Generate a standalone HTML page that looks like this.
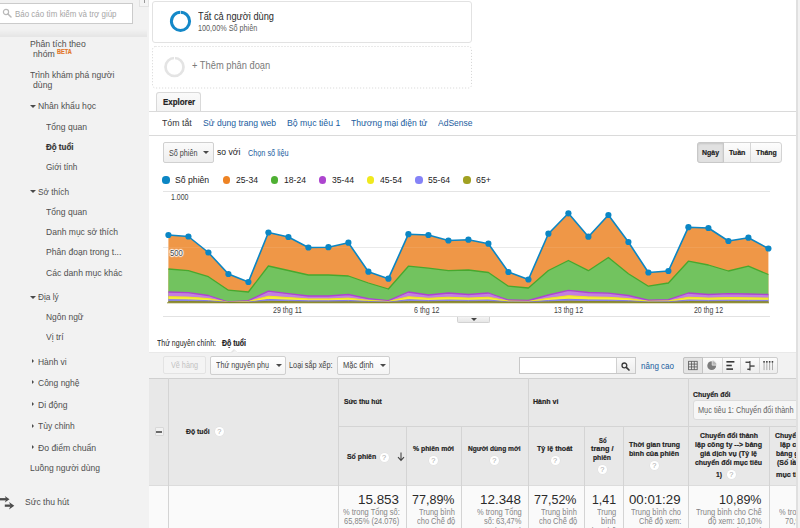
<!DOCTYPE html><html><head><meta charset="utf-8"><title>Analytics</title><style>
*{margin:0;padding:0;box-sizing:border-box}
html,body{width:800px;height:528px;overflow:hidden;background:#fff}
body{position:relative;font-family:"Liberation Sans",sans-serif;color:#333}
.a{position:absolute}
.t{position:absolute;white-space:nowrap;line-height:1;transform-origin:0 0}
.q{position:absolute;width:9px;height:9px;border-radius:50%;background:#fff;color:#a8a8a8;font-size:7.4px;line-height:9.4px;text-align:center;box-shadow:0 0 0 .5px #e0e0e0}
.btn{position:absolute;border:1px solid #cfcfcf;border-radius:2px;background:linear-gradient(#fdfdfd,#efefef)}
.vl{position:absolute;width:1px;background:#d4d4d4}
.hl{position:absolute;height:1px;background:#d4d4d4}
.dot{position:absolute;width:7.2px;height:7.2px;border-radius:50%}
.arD{position:absolute;width:0;height:0;border-left:3px solid transparent;border-right:3px solid transparent;border-top:3.2px solid #4a4a4a}
.arR{position:absolute;width:0;height:0;border-top:2.6px solid transparent;border-bottom:2.6px solid transparent;border-left:2.9px solid #4a4a4a}
</style></head><body>
<div class="a" style="left:0;top:0;width:149px;height:528px;background:#f2f2f2"></div>
<div class="a" style="left:0;top:29px;width:147px;height:8px;background:linear-gradient(rgba(0,0,0,0),rgba(0,0,0,0.055))"></div>
<div class="a" style="left:139px;top:-1px;width:10px;height:8px;border:1px solid #e2e2e2;background:#f4f4f4"></div>
<div class="a" style="left:144px;top:0;width:1px;height:3px;background:#999"></div>
<div class="a" style="left:-3px;top:3px;width:136px;height:21px;background:#fff;border:1px solid #cbcbcb"></div>
<svg class="a" style="left:2px;top:8px" width="10" height="10" viewBox="0 0 10 10"><circle cx="4" cy="4" r="2.6" fill="none" stroke="#b9b9b9" stroke-width="1.2"/><path d="M6 6 L9 9" stroke="#b9b9b9" stroke-width="1.5" stroke-linecap="round"/></svg>
<div class="arD" style="left:29.8px;top:104.7px"></div>
<div class="arD" style="left:29.8px;top:190.2px"></div>
<div class="arD" style="left:29.8px;top:295.7px"></div>
<div class="arR" style="left:31.6px;top:358.9px"></div>
<div class="arR" style="left:31.6px;top:380.4px"></div>
<div class="arR" style="left:31.6px;top:402.4px"></div>
<div class="arR" style="left:31.6px;top:423.9px"></div>
<div class="arR" style="left:31.6px;top:445.4px"></div>
<svg class="a" style="left:0;top:495px" width="16" height="16" viewBox="0 0 16 16"><g fill="#4b4b4b"><rect x="0" y="3.1" width="6.4" height="2.3"/><path d="M4.8 0.9 L9.5 4.25 L4.8 7.6 L6.2 4.25z"/><rect x="4.8" y="9.5" width="6" height="2.3"/><path d="M9 6.9 L14.3 10.65 L9 14.6 L10.6 10.65z"/></g></svg>
<div class="a" style="left:152px;top:1px;width:320px;height:42px;border:1px solid #e2e2e2;border-radius:3px;background:#fff"></div>
<svg class="a" style="left:150px;top:44px" width="326" height="48"><rect x="2.5" y="2.5" width="319" height="41.5" rx="3" fill="#fff" stroke="#d4d4d4" stroke-width="1" stroke-dasharray="1 2"/></svg>
<svg class="a" style="left:0;top:0" width="300" height="95"><circle cx="180.5" cy="21.3" r="9.1" fill="none" stroke="#1488c8" stroke-width="3"/><rect x="180" y="10" width="1" height="5" fill="#fff" opacity=".6"/><circle cx="174.5" cy="67" r="9" fill="none" stroke="#e4e4e4" stroke-width="2.7"/><rect x="174" y="56" width="1" height="4" fill="#fff"/></svg>
<div class="hl" style="left:149px;top:110.5px;width:647px;background:#dadada"></div>
<div class="a" style="left:156px;top:92px;width:45px;height:19px;border:1px solid #d9d9d9;border-bottom:none;border-radius:3px 3px 0 0;background:linear-gradient(#fafafa,#f3f3f3)"></div>
<div class="hl" style="left:149px;top:135.3px;width:647px;background:#dadada"></div>
<div class="btn" style="left:163px;top:142px;width:50.5px;height:21px;border-color:#d0d0d0;background:linear-gradient(#fbfbfb,#eeeeee)"></div>
<div class="arD" style="left:202.8px;top:151.3px"></div>
<div class="btn" style="left:697px;top:142px;width:85px;height:21px;border-radius:3px;border-color:#d3d3d3"></div>
<div class="a" style="left:697px;top:142px;width:27px;height:21px;border:1px solid #c8c8c8;border-radius:3px 0 0 3px;background:#e1e1e1;box-shadow:inset 0 1px 2px rgba(0,0,0,.12)"></div>
<div class="vl" style="left:750px;top:143px;height:19px;background:#d6d6d6"></div>
<div class="dot" style="left:162.4px;top:176.4px;background:#0b86c4"></div>
<div class="dot" style="left:222.9px;top:176.4px;background:#ee8324"></div>
<div class="dot" style="left:270.9px;top:176.4px;background:#4fb033"></div>
<div class="dot" style="left:318.9px;top:176.4px;background:#ad45cf"></div>
<div class="dot" style="left:367.0px;top:176.4px;background:#f0e91e"></div>
<div class="dot" style="left:415.4px;top:176.4px;background:#8583f7"></div>
<div class="dot" style="left:463.4px;top:176.4px;background:#a1a122"></div>
<svg style="position:absolute;left:0;top:0" width="800" height="528" viewBox="0 0 800 528">
<rect x="163" y="191" width="607" height="1" fill="#e4e4e4"/>
<rect x="163" y="247" width="607" height="1" fill="#e9e9e9"/>
<polygon points="168.4,302.6 168.4,235.0 188.4,236.5 208.4,252.5 228.4,274.0 248.4,282.0 268.4,232.5 288.4,237.0 308.4,247.5 328.4,247.2 348.4,242.7 368.4,271.7 388.4,278.7 408.4,234.2 428.4,235.0 448.4,240.5 468.4,239.7 488.4,243.7 508.4,272.0 528.4,279.5 548.4,233.7 568.4,213.3 588.4,236.7 608.4,215.0 628.4,242.0 648.4,272.5 668.4,271.0 688.4,227.2 708.4,228.0 728.4,241.0 748.4,237.7 768.4,248.5 768.4,302.6" fill="#ef9747"/><polyline points="168.4,235.0 188.4,236.5 208.4,252.5 228.4,274.0 248.4,282.0 268.4,232.5 288.4,237.0 308.4,247.5 328.4,247.2 348.4,242.7 368.4,271.7 388.4,278.7 408.4,234.2 428.4,235.0 448.4,240.5 468.4,239.7 488.4,243.7 508.4,272.0 528.4,279.5 548.4,233.7 568.4,213.3 588.4,236.7 608.4,215.0 628.4,242.0 648.4,272.5 668.4,271.0 688.4,227.2 708.4,228.0 728.4,241.0 748.4,237.7 768.4,248.5" fill="none" stroke="#ef9747" stroke-width="0" stroke-linejoin="round"/>
<polygon points="168.4,302.6 168.4,269.0 188.4,270.7 208.4,276.7 228.4,290.2 248.4,292.0 268.4,266.0 288.4,270.5 308.4,275.0 328.4,275.0 348.4,276.0 368.4,283.0 388.4,289.0 408.4,266.2 428.4,268.2 448.4,270.7 468.4,270.0 488.4,272.5 508.4,286.2 528.4,288.0 548.4,270.5 568.4,260.5 588.4,270.7 608.4,257.5 628.4,273.7 648.4,286.2 668.4,283.0 688.4,261.2 708.4,265.0 728.4,271.0 748.4,266.2 768.4,274.5 768.4,302.6" fill="#72c35f"/><polyline points="168.4,269.0 188.4,270.7 208.4,276.7 228.4,290.2 248.4,292.0 268.4,266.0 288.4,270.5 308.4,275.0 328.4,275.0 348.4,276.0 368.4,283.0 388.4,289.0 408.4,266.2 428.4,268.2 448.4,270.7 468.4,270.0 488.4,272.5 508.4,286.2 528.4,288.0 548.4,270.5 568.4,260.5 588.4,270.7 608.4,257.5 628.4,273.7 648.4,286.2 668.4,283.0 688.4,261.2 708.4,265.0 728.4,271.0 748.4,266.2 768.4,274.5" fill="none" stroke="#47a82e" stroke-width="1.3" stroke-linejoin="round"/>
<polygon points="168.4,302.6 168.4,292.0 188.4,292.7 208.4,295.5 228.4,302.0 248.4,300.7 268.4,291.2 288.4,293.7 308.4,296.0 328.4,296.0 348.4,294.5 368.4,298.7 388.4,300.7 408.4,292.0 428.4,295.0 448.4,293.0 468.4,294.5 488.4,293.0 508.4,300.0 528.4,300.5 548.4,295.0 568.4,290.3 588.4,292.5 608.4,293.2 628.4,295.5 648.4,300.2 668.4,299.7 688.4,293.0 708.4,294.5 728.4,293.7 748.4,294.0 768.4,294.5 768.4,302.6" fill="#c27fdf"/><polyline points="168.4,292.0 188.4,292.7 208.4,295.5 228.4,302.0 248.4,300.7 268.4,291.2 288.4,293.7 308.4,296.0 328.4,296.0 348.4,294.5 368.4,298.7 388.4,300.7 408.4,292.0 428.4,295.0 448.4,293.0 468.4,294.5 488.4,293.0 508.4,300.0 528.4,300.5 548.4,295.0 568.4,290.3 588.4,292.5 608.4,293.2 628.4,295.5 648.4,300.2 668.4,299.7 688.4,293.0 708.4,294.5 728.4,293.7 748.4,294.0 768.4,294.5" fill="none" stroke="#ad45cf" stroke-width="1.3" stroke-linejoin="round"/>
<polygon points="168.4,302.6 168.4,296.7 188.4,297.1 208.4,298.6 228.4,302.3 248.4,301.5 268.4,296.2 288.4,297.6 308.4,298.9 328.4,298.9 348.4,298.1 368.4,300.4 388.4,301.5 408.4,296.7 428.4,298.3 448.4,297.2 468.4,298.1 488.4,297.2 508.4,301.1 528.4,301.4 548.4,298.3 568.4,295.7 588.4,296.9 608.4,297.3 628.4,298.6 648.4,301.3 668.4,301.0 688.4,297.2 708.4,298.1 728.4,297.6 748.4,297.8 768.4,298.1 768.4,302.6" fill="#f5ef3a"/><polyline points="168.4,296.7 188.4,297.1 208.4,298.6 228.4,302.3 248.4,301.5 268.4,296.2 288.4,297.6 308.4,298.9 328.4,298.9 348.4,298.1 368.4,300.4 388.4,301.5 408.4,296.7 428.4,298.3 448.4,297.2 468.4,298.1 488.4,297.2 508.4,301.1 528.4,301.4 548.4,298.3 568.4,295.7 588.4,296.9 608.4,297.3 628.4,298.6 648.4,301.3 668.4,301.0 688.4,297.2 708.4,298.1 728.4,297.6 748.4,297.8 768.4,298.1" fill="none" stroke="#efe81c" stroke-width="1" stroke-linejoin="round"/>
<polygon points="168.4,302.6 168.4,299.7 188.4,299.9 208.4,300.7 228.4,302.4 248.4,302.1 268.4,299.5 288.4,300.2 308.4,300.8 328.4,300.8 348.4,300.4 368.4,301.5 388.4,302.1 408.4,299.7 428.4,300.5 448.4,300.0 468.4,300.4 488.4,300.0 508.4,301.9 528.4,302.0 548.4,300.5 568.4,299.3 588.4,299.9 608.4,300.1 628.4,300.7 648.4,302.0 668.4,301.8 688.4,300.0 708.4,300.4 728.4,300.2 748.4,300.3 768.4,300.4 768.4,302.6" fill="#8d88f0"/><polyline points="168.4,299.7 188.4,299.9 208.4,300.7 228.4,302.4 248.4,302.1 268.4,299.5 288.4,300.2 308.4,300.8 328.4,300.8 348.4,300.4 368.4,301.5 388.4,302.1 408.4,299.7 428.4,300.5 448.4,300.0 468.4,300.4 488.4,300.0 508.4,301.9 528.4,302.0 548.4,300.5 568.4,299.3 588.4,299.9 608.4,300.1 628.4,300.7 648.4,302.0 668.4,301.8 688.4,300.0 708.4,300.4 728.4,300.2 748.4,300.3 768.4,300.4" fill="none" stroke="#7d78ee" stroke-width="1" stroke-linejoin="round"/>
<polygon points="168.4,302.6 168.4,301.4 188.4,301.5 208.4,301.8 228.4,302.5 248.4,302.4 268.4,301.3 288.4,301.6 308.4,301.9 328.4,301.9 348.4,301.7 368.4,302.2 388.4,302.4 408.4,301.4 428.4,301.8 448.4,301.5 468.4,301.7 488.4,301.5 508.4,302.3 528.4,302.4 548.4,301.8 568.4,301.2 588.4,301.5 608.4,301.6 628.4,301.8 648.4,302.3 668.4,302.3 688.4,301.5 708.4,301.7 728.4,301.6 748.4,301.7 768.4,301.7 768.4,302.6" fill="#9a9a22"/><polyline points="168.4,301.4 188.4,301.5 208.4,301.8 228.4,302.5 248.4,302.4 268.4,301.3 288.4,301.6 308.4,301.9 328.4,301.9 348.4,301.7 368.4,302.2 388.4,302.4 408.4,301.4 428.4,301.8 448.4,301.5 468.4,301.7 488.4,301.5 508.4,302.3 528.4,302.4 548.4,301.8 568.4,301.2 588.4,301.5 608.4,301.6 628.4,301.8 648.4,302.3 668.4,302.3 688.4,301.5 708.4,301.7 728.4,301.6 748.4,301.7 768.4,301.7" fill="none" stroke="#84840f" stroke-width="0.8" stroke-linejoin="round"/>
<rect x="163" y="247" width="607" height="1" fill="#ffffff" opacity="0.08"/>
<rect x="167" y="302.3" width="602" height="1" fill="#85851a" opacity="0.85"/>
<polyline points="168.4,235.0 188.4,236.5 208.4,252.5 228.4,274.0 248.4,282.0 268.4,232.5 288.4,237.0 308.4,247.5 328.4,247.2 348.4,242.7 368.4,271.7 388.4,278.7 408.4,234.2 428.4,235.0 448.4,240.5 468.4,239.7 488.4,243.7 508.4,272.0 528.4,279.5 548.4,233.7 568.4,213.3 588.4,236.7 608.4,215.0 628.4,242.0 648.4,272.5 668.4,271.0 688.4,227.2 708.4,228.0 728.4,241.0 748.4,237.7 768.4,248.5" fill="none" stroke="#0b86c4" stroke-width="1.6" stroke-linejoin="round"/>
<circle cx="168.4" cy="235.0" r="3.1" fill="#0b86c4"/>
<circle cx="188.4" cy="236.5" r="3.1" fill="#0b86c4"/>
<circle cx="208.4" cy="252.5" r="3.1" fill="#0b86c4"/>
<circle cx="228.4" cy="274.0" r="3.1" fill="#0b86c4"/>
<circle cx="248.4" cy="282.0" r="3.1" fill="#0b86c4"/>
<circle cx="268.4" cy="232.5" r="3.1" fill="#0b86c4"/>
<circle cx="288.4" cy="237.0" r="3.1" fill="#0b86c4"/>
<circle cx="308.4" cy="247.5" r="3.1" fill="#0b86c4"/>
<circle cx="328.4" cy="247.2" r="3.1" fill="#0b86c4"/>
<circle cx="348.4" cy="242.7" r="3.1" fill="#0b86c4"/>
<circle cx="368.4" cy="271.7" r="3.1" fill="#0b86c4"/>
<circle cx="388.4" cy="278.7" r="3.1" fill="#0b86c4"/>
<circle cx="408.4" cy="234.2" r="3.1" fill="#0b86c4"/>
<circle cx="428.4" cy="235.0" r="3.1" fill="#0b86c4"/>
<circle cx="448.4" cy="240.5" r="3.1" fill="#0b86c4"/>
<circle cx="468.4" cy="239.7" r="3.1" fill="#0b86c4"/>
<circle cx="488.4" cy="243.7" r="3.1" fill="#0b86c4"/>
<circle cx="508.4" cy="272.0" r="3.1" fill="#0b86c4"/>
<circle cx="528.4" cy="279.5" r="3.1" fill="#0b86c4"/>
<circle cx="548.4" cy="233.7" r="3.1" fill="#0b86c4"/>
<circle cx="568.4" cy="213.3" r="3.1" fill="#0b86c4"/>
<circle cx="588.4" cy="236.7" r="3.1" fill="#0b86c4"/>
<circle cx="608.4" cy="215.0" r="3.1" fill="#0b86c4"/>
<circle cx="628.4" cy="242.0" r="3.1" fill="#0b86c4"/>
<circle cx="648.4" cy="272.5" r="3.1" fill="#0b86c4"/>
<circle cx="668.4" cy="271.0" r="3.1" fill="#0b86c4"/>
<circle cx="688.4" cy="227.2" r="3.1" fill="#0b86c4"/>
<circle cx="708.4" cy="228.0" r="3.1" fill="#0b86c4"/>
<circle cx="728.4" cy="241.0" r="3.1" fill="#0b86c4"/>
<circle cx="748.4" cy="237.7" r="3.1" fill="#0b86c4"/>
<circle cx="768.4" cy="248.5" r="3.1" fill="#0b86c4"/>
</svg>
<div class="t" style="left:170px;top:249.3px;font-size:8.3px;color:#444;text-shadow:0 0 2px #fff,0 0 2px #fff,0 0 1px #fff,1px 0 1px #fff,-1px 0 1px #fff,0 1px 1px #fff,0 -1px 1px #fff;transform:scaleX(.92)">500</div>
<div class="hl" style="left:163px;top:316.2px;width:607px;background:#e2e2e2"></div>
<div class="a" style="left:456.5px;top:317px;width:33px;height:6px;border:1px solid #d2d2d2;border-top:none;border-radius:0 0 2px 2px;background:linear-gradient(#f4f4f4,#e6e6e6)"></div>
<div class="arD" style="left:471px;top:318.3px;border-top-color:#444"></div>
<div class="a" style="left:149px;top:352px;width:646.5px;height:26px;background:#f2f2f2;border-top:1px solid #e9e9e9"></div>
<div class="a" style="left:231px;top:349px;width:0;height:0;border-left:3.5px solid transparent;border-right:3.5px solid transparent;border-bottom:3.5px solid #e4e4e4"></div>
<div class="a" style="left:231.5px;top:350px;width:0;height:0;border-left:3px solid transparent;border-right:3px solid transparent;border-bottom:3px solid #f2f2f2"></div>
<div class="btn" style="left:162.8px;top:356.3px;width:43.7px;height:18.2px;border-color:#e3e3e3;background:#f4f4f4"></div>
<div class="btn" style="left:209.9px;top:356px;width:76px;height:18.5px;background:linear-gradient(#fff,#f4f4f4)"></div>
<div class="arD" style="left:276px;top:364.2px"></div>
<div class="btn" style="left:336.8px;top:356px;width:53.2px;height:18.5px;background:linear-gradient(#fff,#f4f4f4)"></div>
<div class="arD" style="left:380px;top:364.2px"></div>
<div class="a" style="left:519px;top:357px;width:117px;height:16.5px;border:1px solid #c8c8c8;background:#fff"></div>
<div class="a" style="left:616px;top:358px;width:19px;height:14.5px;border-left:1px solid #d0d0d0;background:linear-gradient(#fafafa,#ececec)"></div>
<svg class="a" style="left:620px;top:360.5px" width="12" height="12" viewBox="0 0 12 12"><circle cx="4.4" cy="4.4" r="2.4" fill="none" stroke="#3a3a3a" stroke-width="1.3"/><path d="M6.3 6.3 L9 9" stroke="#3a3a3a" stroke-width="1.7" stroke-linecap="round"/></svg>
<div class="btn" style="left:683px;top:356.7px;width:95.2px;height:17px;border-color:#cdcdcd;background:linear-gradient(#fcfcfc,#ededed)"></div>
<div class="a" style="left:683px;top:356.7px;width:19.8px;height:17px;border:1px solid #c2c2c2;background:#e4e4e4;border-radius:2px 0 0 2px"></div>
<div class="vl" style="left:721.5px;top:357.7px;height:15px;background:#d6d6d6"></div>
<div class="vl" style="left:740.4px;top:357.7px;height:15px;background:#d6d6d6"></div>
<div class="vl" style="left:759px;top:357.7px;height:15px;background:#d6d6d6"></div>
<svg class="a" style="left:683px;top:356px" width="96" height="19" viewBox="0 0 96 19">
<g fill="none" stroke="#555" stroke-width="0.8"><rect x="5.6" y="5.3" width="8.6" height="8.4"/><path d="M8.5 5.3v8.4M11.3 5.3v8.4M5.6 8.1h8.6M5.6 10.9h8.6"/></g>
<circle cx="28.7" cy="9.7" r="4.4" fill="#7c7c7c"/><path d="M29.2 9.2 L29.2 4.6 A4.6 4.6 0 0 1 33.8 9.2z" fill="#b5b5b5" stroke="#f4f4f4" stroke-width="0.7"/>
<g fill="#383838"><rect x="43.4" y="5" width="8" height="1.6"/><rect x="43.4" y="8.7" width="5.4" height="1.6"/><rect x="43.4" y="12.3" width="6.6" height="1.6"/></g>
<g fill="#383838"><rect x="66.4" y="5" width="1.1" height="9.5"/><rect x="62.5" y="5.6" width="4.5" height="1.3"/><rect x="67" y="9.4" width="4.6" height="1.3"/><rect x="64.3" y="12.6" width="2.8" height="1.3"/></g>
<g fill="#a2a2a2"><rect x="80.6" y="5.3" width="0.9" height="8.8"/><rect x="83.4" y="5.3" width="0.9" height="8.8"/><rect x="86.2" y="5.3" width="0.9" height="8.8"/><rect x="89" y="5.3" width="0.9" height="8.8"/></g><g fill="#444"><rect x="80.3" y="5" width="1.5" height="1.6"/><rect x="83.1" y="5" width="1.5" height="1.6"/><rect x="85.9" y="5" width="1.5" height="1.6"/><rect x="88.7" y="5" width="1.5" height="1.6"/></g>
</svg>
<div class="a" style="left:149px;top:378px;width:646.5px;height:107px;background:#e8e8e8;border-top:1px solid #d0d0d0"></div>
<div class="a" style="left:149px;top:485px;width:646.5px;height:43px;background:#fafafa;border-top:1px solid #dcdcdc"></div>
<div class="vl" style="left:168px;top:378px;height:150px"></div>
<div class="vl" style="left:338px;top:378px;height:150px"></div>
<div class="vl" style="left:528px;top:378px;height:150px"></div>
<div class="vl" style="left:688px;top:378px;height:150px"></div>
<div class="vl" style="left:406.2px;top:426.5px;height:102px"></div>
<div class="vl" style="left:461px;top:426.5px;height:102px"></div>
<div class="vl" style="left:584px;top:426.5px;height:102px"></div>
<div class="vl" style="left:623.4px;top:426.5px;height:102px"></div>
<div class="vl" style="left:769.2px;top:426.5px;height:102px"></div>
<div class="hl" style="left:338px;top:426px;width:458px"></div>
<div class="a" style="left:154.7px;top:427px;width:9px;height:8.7px;border:1px solid #d8d8d8;background:#f1f1f1;border-radius:1px"></div><div class="a" style="left:156px;top:430.6px;width:6.2px;height:2.1px;background:#6a6a6a"></div>
<div class="a" style="left:692.5px;top:400.3px;width:110px;height:20.2px;border:1px solid #dbdbdb;border-radius:3px;background:#f6f6f6"></div>
<div class="q" style="left:214.8px;top:426.9px">?</div>
<div class="q" style="left:379.5px;top:452.5px">?</div>
<div class="q" style="left:428.7px;top:456.1px">?</div>
<div class="q" style="left:489.8px;top:456.1px">?</div>
<div class="q" style="left:550.5px;top:456.1px">?</div>
<div class="q" style="left:597.8px;top:464.8px">?</div>
<div class="q" style="left:649.9px;top:460.7px">?</div>
<div class="q" style="left:726.8px;top:470.1px">?</div>
<svg class="a" style="left:396.5px;top:452px" width="8" height="10" viewBox="0 0 8 10"><path d="M4 0.5V8M1 5.2L4 8.4L7 5.2" fill="none" stroke="#444" stroke-width="1.1"/></svg>
<span class="t" style="left:15.0px;top:8.9px;font-size:9.4px;transform:scaleX(0.848);color:#a6a6a6;">Báo cáo tìm kiếm và trợ giúp</span>
<span class="t" style="left:30.0px;top:39.1px;font-size:9.8px;transform:scaleX(0.882);color:#4f4f4f;">Phân tích theo</span>
<span class="t" style="left:33.2px;top:49.1px;font-size:9.8px;transform:scaleX(0.889);color:#4f4f4f;">nhóm</span>
<span class="t" style="left:57.0px;top:49.2px;font-size:6.6px;transform:scaleX(0.842);color:#e2762a;font-weight:bold;-webkit-text-stroke:0.2px;">BETA</span>
<span class="t" style="left:30.0px;top:69.8px;font-size:9.8px;transform:scaleX(0.869);color:#4f4f4f;">Trình khám phá người</span>
<span class="t" style="left:33.2px;top:80.1px;font-size:9.8px;transform:scaleX(0.885);color:#4f4f4f;">dùng</span>
<span class="t" style="left:37.5px;top:101.3px;font-size:9.8px;transform:scaleX(0.880);color:#4f4f4f;">Nhân khẩu học</span>
<span class="t" style="left:45.7px;top:121.8px;font-size:9.8px;transform:scaleX(0.875);color:#4f4f4f;">Tổng quan</span>
<span class="t" style="left:45.7px;top:141.7px;font-size:9.8px;transform:scaleX(0.815);color:#333;font-weight:bold;-webkit-text-stroke:0.2px;">Độ tuổi</span>
<span class="t" style="left:45.7px;top:162.1px;font-size:9.8px;transform:scaleX(0.835);color:#4f4f4f;">Giới tính</span>
<span class="t" style="left:37.5px;top:186.6px;font-size:9.8px;transform:scaleX(0.840);color:#4f4f4f;">Sở thích</span>
<span class="t" style="left:45.7px;top:207.1px;font-size:9.8px;transform:scaleX(0.875);color:#4f4f4f;">Tổng quan</span>
<span class="t" style="left:45.7px;top:227.1px;font-size:9.8px;transform:scaleX(0.871);color:#4f4f4f;">Danh mục sở thích</span>
<span class="t" style="left:45.7px;top:247.3px;font-size:9.8px;transform:scaleX(0.875);color:#4f4f4f;">Phân đoạn trong t...</span>
<span class="t" style="left:45.7px;top:267.6px;font-size:9.8px;transform:scaleX(0.881);color:#4f4f4f;">Các danh mục khác</span>
<span class="t" style="left:37.5px;top:291.8px;font-size:9.8px;transform:scaleX(0.845);color:#4f4f4f;">Địa lý</span>
<span class="t" style="left:45.7px;top:312.1px;font-size:9.8px;transform:scaleX(0.860);color:#4f4f4f;">Ngôn ngữ</span>
<span class="t" style="left:45.7px;top:332.3px;font-size:9.8px;transform:scaleX(0.869);color:#4f4f4f;">Vị trí</span>
<span class="t" style="left:37.5px;top:356.6px;font-size:9.8px;transform:scaleX(0.864);color:#4f4f4f;">Hành vi</span>
<span class="t" style="left:37.5px;top:378.1px;font-size:9.8px;transform:scaleX(0.866);color:#4f4f4f;">Công nghệ</span>
<span class="t" style="left:37.5px;top:400.1px;font-size:9.8px;transform:scaleX(0.873);color:#4f4f4f;">Di động</span>
<span class="t" style="left:37.5px;top:421.4px;font-size:9.8px;transform:scaleX(0.864);color:#4f4f4f;">Tùy chỉnh</span>
<span class="t" style="left:37.5px;top:443.3px;font-size:9.8px;transform:scaleX(0.883);color:#4f4f4f;">Đo điểm chuẩn</span>
<span class="t" style="left:30.0px;top:463.2px;font-size:9.8px;transform:scaleX(0.869);color:#4f4f4f;">Luồng người dùng</span>
<span class="t" style="left:24.5px;top:496.8px;font-size:9.8px;transform:scaleX(0.872);color:#4f4f4f;">Sức thu hút</span>
<span class="t" style="left:198.2px;top:12.1px;font-size:10.1px;transform:scaleX(0.916);color:#2b2b2b;">Tất cả người dùng</span>
<span class="t" style="left:198.2px;top:24.2px;font-size:8.3px;transform:scaleX(0.874);color:#5c5c5c;">100,00% Số phiên</span>
<span class="t" style="left:192.0px;top:61.1px;font-size:10.1px;transform:scaleX(0.922);color:#7a7a7a;">+ Thêm phân đoạn</span>
<span class="t" style="left:162.5px;top:97.5px;font-size:9.2px;transform:scaleX(0.864);color:#222;font-weight:bold;-webkit-text-stroke:0.2px;">Explorer</span>
<span class="t" style="left:162.0px;top:118.1px;font-size:9.5px;transform:scaleX(0.922);color:#333;">Tóm tắt</span>
<span class="t" style="left:202.5px;top:118.1px;font-size:9.5px;transform:scaleX(0.905);color:#1a5d9e;">Sử dụng trang web</span>
<span class="t" style="left:286.7px;top:118.1px;font-size:9.5px;transform:scaleX(0.917);color:#1a5d9e;">Bộ mục tiêu 1</span>
<span class="t" style="left:351.2px;top:118.1px;font-size:9.5px;transform:scaleX(0.904);color:#1a5d9e;">Thương mại điện tử</span>
<span class="t" style="left:438.2px;top:118.1px;font-size:9.5px;transform:scaleX(0.895);color:#1a5d9e;">AdSense</span>
<span class="t" style="left:168.5px;top:148.6px;font-size:8.5px;transform:scaleX(0.849);color:#444;">Số phiên</span>
<span class="t" style="left:216.7px;top:147.3px;font-size:9.6px;transform:scaleX(0.895);color:#222;">so với</span>
<span class="t" style="left:247.5px;top:148.5px;font-size:8.6px;transform:scaleX(0.848);color:#1a5d9e;">Chọn số liệu</span>
<span class="t" style="left:702.0px;top:148.5px;font-size:8px;transform:scaleX(0.869);color:#222;font-weight:bold;-webkit-text-stroke:0.2px;">Ngày</span>
<span class="t" style="left:729.4px;top:148.5px;font-size:8px;transform:scaleX(0.886);color:#222;font-weight:bold;-webkit-text-stroke:0.2px;">Tuần</span>
<span class="t" style="left:756.2px;top:148.5px;font-size:8px;transform:scaleX(0.867);color:#222;font-weight:bold;-webkit-text-stroke:0.2px;">Tháng</span>
<span class="t" style="left:175.0px;top:175.1px;font-size:9.8px;transform:scaleX(0.884);color:#222;">Số phiên</span>
<span class="t" style="left:235.5px;top:175.1px;font-size:9.8px;transform:scaleX(0.878);color:#222;">25-34</span>
<span class="t" style="left:283.5px;top:175.1px;font-size:9.8px;transform:scaleX(0.878);color:#222;">18-24</span>
<span class="t" style="left:331.5px;top:175.1px;font-size:9.8px;transform:scaleX(0.878);color:#222;">35-44</span>
<span class="t" style="left:379.5px;top:175.1px;font-size:9.8px;transform:scaleX(0.878);color:#222;">45-54</span>
<span class="t" style="left:427.5px;top:175.1px;font-size:9.8px;transform:scaleX(0.878);color:#222;">55-64</span>
<span class="t" style="left:475.7px;top:175.1px;font-size:9.8px;transform:scaleX(0.902);color:#222;">65+</span>
<span class="t" style="left:170.8px;top:193.3px;font-size:8.5px;transform:scaleX(0.822);color:#444;">1.000</span>
<span class="t" style="left:273.0px;top:306.4px;font-size:8.5px;transform:scaleX(0.833);color:#444;">29 thg 11</span>
<span class="t" style="left:414.2px;top:306.4px;font-size:8.5px;transform:scaleX(0.830);color:#444;">6 thg 12</span>
<span class="t" style="left:554.0px;top:306.4px;font-size:8.5px;transform:scaleX(0.818);color:#444;">13 thg 12</span>
<span class="t" style="left:694.0px;top:306.4px;font-size:8.5px;transform:scaleX(0.818);color:#444;">20 thg 12</span>
<span class="t" style="left:157.0px;top:338.6px;font-size:8.3px;transform:scaleX(0.847);color:#222;">Thứ nguyên chính:</span>
<span class="t" style="left:222.0px;top:338.6px;font-size:8.3px;transform:scaleX(0.840);color:#222;font-weight:bold;-webkit-text-stroke:0.2px;">Độ tuổi</span>
<span class="t" style="left:171.2px;top:360.8px;font-size:8.3px;transform:scaleX(0.873);color:#c2c2c2;">Vẽ hàng</span>
<span class="t" style="left:216.0px;top:360.8px;font-size:8.3px;transform:scaleX(0.870);color:#444;">Thứ nguyên phụ</span>
<span class="t" style="left:289.0px;top:360.8px;font-size:8.3px;transform:scaleX(0.881);color:#444;">Loại sắp xếp:</span>
<span class="t" style="left:342.6px;top:360.8px;font-size:8.3px;transform:scaleX(0.906);color:#444;">Mặc định</span>
<span class="t" style="left:640.8px;top:361.4px;font-size:9.5px;transform:scaleX(0.844);color:#1a5d9e;">nâng cao</span>
<span class="t" style="left:186.4px;top:427.6px;font-size:8.0px;transform:scaleX(0.857);color:#222;font-weight:bold;-webkit-text-stroke:0.2px;">Độ tuổi</span>
<span class="t" style="left:343.5px;top:398.0px;font-size:8.0px;transform:scaleX(0.842);color:#222;font-weight:bold;-webkit-text-stroke:0.2px;">Sức thu hút</span>
<span class="t" style="left:533.0px;top:398.0px;font-size:8.0px;transform:scaleX(0.882);color:#222;font-weight:bold;-webkit-text-stroke:0.2px;">Hành vi</span>
<span class="t" style="left:692.7px;top:391.3px;font-size:8.0px;transform:scaleX(0.861);color:#222;font-weight:bold;-webkit-text-stroke:0.2px;">Chuyển đổi</span>
<span class="t" style="left:698.0px;top:405.5px;font-size:8.9px;transform:scaleX(0.827);color:#626262;">Mục tiêu 1: Chuyển đổi thành</span>
<span class="t" style="left:346.5px;top:453.2px;font-size:8.0px;transform:scaleX(0.864);color:#222;font-weight:bold;-webkit-text-stroke:0.2px;">Số phiên</span>
<span class="t" style="left:412.7px;top:445.2px;font-size:8.0px;transform:scaleX(0.856);color:#222;font-weight:bold;-webkit-text-stroke:0.2px;">% phiên mới</span>
<span class="t" style="left:468.4px;top:445.2px;font-size:8.0px;transform:scaleX(0.828);color:#222;font-weight:bold;-webkit-text-stroke:0.2px;">Người dùng mới</span>
<span class="t" style="left:537.2px;top:445.2px;font-size:8.0px;transform:scaleX(0.887);color:#222;font-weight:bold;-webkit-text-stroke:0.2px;">Tỷ lệ thoát</span>
<span class="t" style="left:598.5px;top:436.6px;font-size:8.0px;transform:scaleX(0.733);color:#222;font-weight:bold;-webkit-text-stroke:0.2px;">Số</span>
<span class="t" style="left:591.0px;top:445.2px;font-size:8.0px;transform:scaleX(0.920);color:#222;font-weight:bold;-webkit-text-stroke:0.2px;">trang /</span>
<span class="t" style="left:593.3px;top:453.9px;font-size:8.0px;transform:scaleX(0.843);color:#222;font-weight:bold;-webkit-text-stroke:0.2px;">phiên</span>
<span class="t" style="left:628.9px;top:441.0px;font-size:8.0px;transform:scaleX(0.864);color:#222;font-weight:bold;-webkit-text-stroke:0.2px;">Thời gian trung</span>
<span class="t" style="left:629.4px;top:449.7px;font-size:8.0px;transform:scaleX(0.886);color:#222;font-weight:bold;-webkit-text-stroke:0.2px;">bình của phiên</span>
<span class="t" style="left:699.5px;top:432.4px;font-size:8.0px;transform:scaleX(0.858);color:#222;font-weight:bold;-webkit-text-stroke:0.2px;">Chuyển đổi thành</span>
<span class="t" style="left:695.0px;top:441.1px;font-size:8.0px;transform:scaleX(0.884);color:#222;font-weight:bold;-webkit-text-stroke:0.2px;">lập công ty --&gt; bảng</span>
<span class="t" style="left:700.0px;top:449.8px;font-size:8.0px;transform:scaleX(0.878);color:#222;font-weight:bold;-webkit-text-stroke:0.2px;">giá dịch vụ (Tỷ lệ</span>
<span class="t" style="left:695.0px;top:458.5px;font-size:8.0px;transform:scaleX(0.866);color:#222;font-weight:bold;-webkit-text-stroke:0.2px;">chuyển đổi mục tiêu</span>
<span class="t" style="left:715.5px;top:470.7px;font-size:8.0px;transform:scaleX(0.842);color:#222;font-weight:bold;-webkit-text-stroke:0.2px;">1)</span>
<span class="t" style="left:774.8px;top:432.4px;font-size:8.0px;transform:scaleX(0.858);color:#222;font-weight:bold;-webkit-text-stroke:0.2px;">Chuyển đổi thành</span>
<span class="t" style="left:779.7px;top:441.1px;font-size:8.0px;transform:scaleX(0.884);color:#222;font-weight:bold;-webkit-text-stroke:0.2px;">lập công ty --&gt; bảng</span>
<span class="t" style="left:776.2px;top:449.8px;font-size:8.0px;transform:scaleX(0.853);color:#222;font-weight:bold;-webkit-text-stroke:0.2px;">bảng giá dịch</span>
<span class="t" style="left:777.4px;top:458.5px;font-size:8.0px;transform:scaleX(0.875);color:#222;font-weight:bold;-webkit-text-stroke:0.2px;">(Số lần hoàn</span>
<span class="t" style="left:775.6px;top:470.7px;font-size:8.0px;transform:scaleX(0.900);color:#222;font-weight:bold;-webkit-text-stroke:0.2px;">mục tiêu 1)</span>
<span class="t" style="left:357.6px;top:493.0px;font-size:13.3px;transform:scaleX(1.008);color:#2a2a2a;">15.853</span>
<span class="t" style="left:411.9px;top:493.0px;font-size:13.3px;transform:scaleX(0.942);color:#2a2a2a;">77,89%</span>
<span class="t" style="left:480.0px;top:493.0px;font-size:13.3px;transform:scaleX(1.008);color:#2a2a2a;">12.348</span>
<span class="t" style="left:534.1px;top:493.0px;font-size:13.3px;transform:scaleX(0.942);color:#2a2a2a;">77,52%</span>
<span class="t" style="left:591.6px;top:493.0px;font-size:13.3px;transform:scaleX(0.927);color:#2a2a2a;">1,41</span>
<span class="t" style="left:629.0px;top:493.0px;font-size:13.3px;transform:scaleX(0.995);color:#2a2a2a;">00:01:29</span>
<span class="t" style="left:719.2px;top:493.0px;font-size:13.3px;transform:scaleX(0.942);color:#2a2a2a;">10,89%</span>
<span class="t" style="left:342.7px;top:508.2px;font-size:8.7px;transform:scaleX(0.860);color:#858585;">% trong Tổng số:</span>
<span class="t" style="left:344.2px;top:516.8px;font-size:8.7px;transform:scaleX(0.860);color:#858585;">65,85% (24.076)</span>
<span class="t" style="left:419.1px;top:508.2px;font-size:8.7px;transform:scaleX(0.860);color:#858585;">Trung bình</span>
<span class="t" style="left:416.8px;top:516.8px;font-size:8.7px;transform:scaleX(0.860);color:#858585;">cho Chế độ</span>
<span class="t" style="left:411.4px;top:526.6px;font-size:8.7px;transform:scaleX(0.860);color:#858585;">xem: 39,91%</span>
<span class="t" style="left:476.8px;top:508.2px;font-size:8.7px;transform:scaleX(0.860);color:#858585;">% trong Tổng</span>
<span class="t" style="left:484.1px;top:516.8px;font-size:8.7px;transform:scaleX(0.860);color:#858585;">số: 63,47%</span>
<span class="t" style="left:493.7px;top:526.6px;font-size:8.7px;transform:scaleX(0.860);color:#858585;">(19.455)</span>
<span class="t" style="left:541.1px;top:508.2px;font-size:8.7px;transform:scaleX(0.860);color:#858585;">Trung bình</span>
<span class="t" style="left:538.8px;top:516.8px;font-size:8.7px;transform:scaleX(0.860);color:#858585;">cho Chế độ</span>
<span class="t" style="left:533.4px;top:526.6px;font-size:8.7px;transform:scaleX(0.860);color:#858585;">xem: 67,48%</span>
<span class="t" style="left:596.8px;top:508.2px;font-size:8.7px;transform:scaleX(0.860);color:#858585;">Trung</span>
<span class="t" style="left:601.4px;top:516.8px;font-size:8.7px;transform:scaleX(0.860);color:#858585;">bình</span>
<span class="t" style="left:588.2px;top:526.6px;font-size:8.7px;transform:scaleX(0.860);color:#858585;">cho Chế</span>
<span class="t" style="left:631.0px;top:508.2px;font-size:8.7px;transform:scaleX(0.860);color:#858585;">Trung bình cho</span>
<span class="t" style="left:638.6px;top:516.8px;font-size:8.7px;transform:scaleX(0.860);color:#858585;">Chế độ xem:</span>
<span class="t" style="left:651.9px;top:526.6px;font-size:8.7px;transform:scaleX(0.860);color:#858585;">00:01:46</span>
<span class="t" style="left:696.2px;top:508.2px;font-size:8.7px;transform:scaleX(0.860);color:#858585;">Trung bình cho Chế</span>
<span class="t" style="left:708.0px;top:516.8px;font-size:8.7px;transform:scaleX(0.860);color:#858585;">độ xem: 10,10%</span>
<span class="t" style="left:735.8px;top:526.6px;font-size:8.7px;transform:scaleX(0.860);color:#858585;">(7,79%)</span>
<span class="t" style="left:778.8px;top:508.2px;font-size:8.7px;transform:scaleX(0.860);color:#858585;">% trong</span>
<span class="t" style="left:784.6px;top:516.7px;font-size:8.7px;transform:scaleX(0.860);color:#858585;">70,94%</span>
<div class="a" style="left:795.7px;top:0;width:4.5px;height:528px;background:#f2f2f2"></div>
<div class="a" style="left:795.7px;top:0;width:2.6px;height:528px;background:#e0e0e0"></div>
</body></html>
